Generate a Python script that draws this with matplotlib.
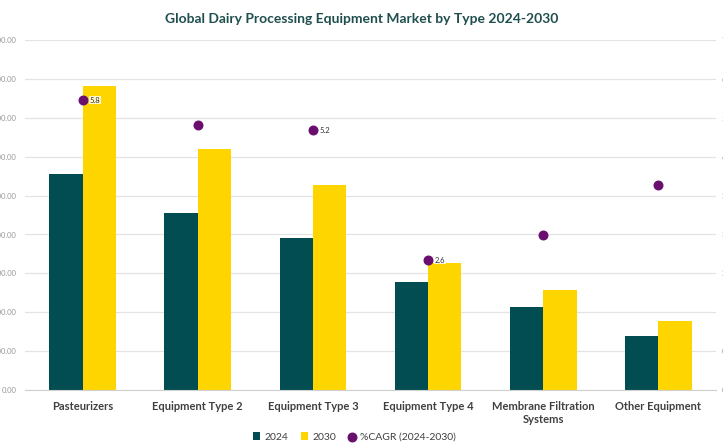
import matplotlib
matplotlib.use("Agg")
import matplotlib.pyplot as plt
import numpy as np

plt.rcParams['font.family'] = ['Lato', 'DejaVu Sans']

# market by type
types = ["Pasteurizers", "Equipment Type 2", "Equipment Type 3",
         "Equipment Type 4", "Membrane Filtration\nSystems", "Other Equipment"]
val_2024 = [2780, 2270, 1950, 1385, 1065, 692]
val_2030 = [3910, 3105, 2640, 1630, 1282, 885]
cagr = [5.8, 5.3, 5.2, 2.6, 3.1, 4.1]
cagr_labels = ["5.8", "", "5.2", "2.6", "", ""]
left_ticks = [0, 500, 1000, 1500, 2000, 2500, 3000, 3500, 4000, 4500]

teal = "#014D52"
yellow = "#FFD500"
purple = "#6A0F6E"
grid = "#E3E3E3"

fig = plt.figure(figsize=(7.23, 4.44), dpi=100)
ax = fig.add_axes([0.0346, 0.1216, 0.9557, 0.7883])

x = np.arange(len(types))
w = 0.29
ax.bar(x - w / 2, val_2024, w, color=teal, label="2024", zorder=2)
ax.bar(x + w / 2, val_2030, w, color=yellow, label="2030", zorder=2)

ax.set_xlim(-0.5, len(types) - 0.5)
ax.set_ylim(0, 4500)
ax.set_yticks(left_ticks)
ax.set_yticklabels(["{:,.2f}".format(v) for v in left_ticks])
ax.grid(axis="y", color=grid, linewidth=0.9, zorder=0)
ax.tick_params(axis="y", length=0, labelsize=5.5, labelcolor="#9a9a9a", pad=6)
ax.tick_params(axis="x", length=0, labelsize=8, labelcolor="#404040", pad=8)
ax.set_xticks(x)
ax.set_xticklabels(types, fontweight="bold")
for s in ["top", "right", "left"]:
    ax.spines[s].set_visible(False)
ax.spines["bottom"].set_color("#d0d0d0")

ax2 = ax.twinx()
ax2.set_ylim(0, 7)
ax2.set_yticks(np.linspace(0, 7, 10))
ax2.set_yticklabels(["{:.2f}".format(v) for v in np.linspace(0, 7, 10)])
ax2.tick_params(axis="y", length=0, labelsize=5.5, labelcolor="#9a9a9a", pad=4)
for s in ax2.spines.values():
    s.set_visible(False)
ax2.scatter(x, cagr, s=38, color=purple, zorder=3, label="%CAGR (2024-2030)")
for xi, c, lab in zip(x, cagr, cagr_labels):
    if lab:
        ax2.annotate(lab, (xi, c), xytext=(5, 0), textcoords="offset points",
                     fontsize=5.5, color="#333333", va="center",
                     bbox=dict(facecolor="white", edgecolor="none", pad=0.5, alpha=0.8))

fig.text(0.5, 0.957, "Global Dairy Processing Equipment Market by Type 2024-2030",
         ha="center", va="center", fontsize=10, fontweight="bold", color="#1F4E4E")

h1, l1 = ax.get_legend_handles_labels()
h2, l2 = ax2.get_legend_handles_labels()
fig.legend(h1 + h2, l1 + l2, loc="center", bbox_to_anchor=(0.49, 0.016), ncol=3,
           frameon=False, fontsize=7.5, handlelength=0.7, handleheight=0.7,
           handletextpad=0.4, columnspacing=1.2, labelcolor="#404040")

fig.savefig("out.png", dpi=100)
